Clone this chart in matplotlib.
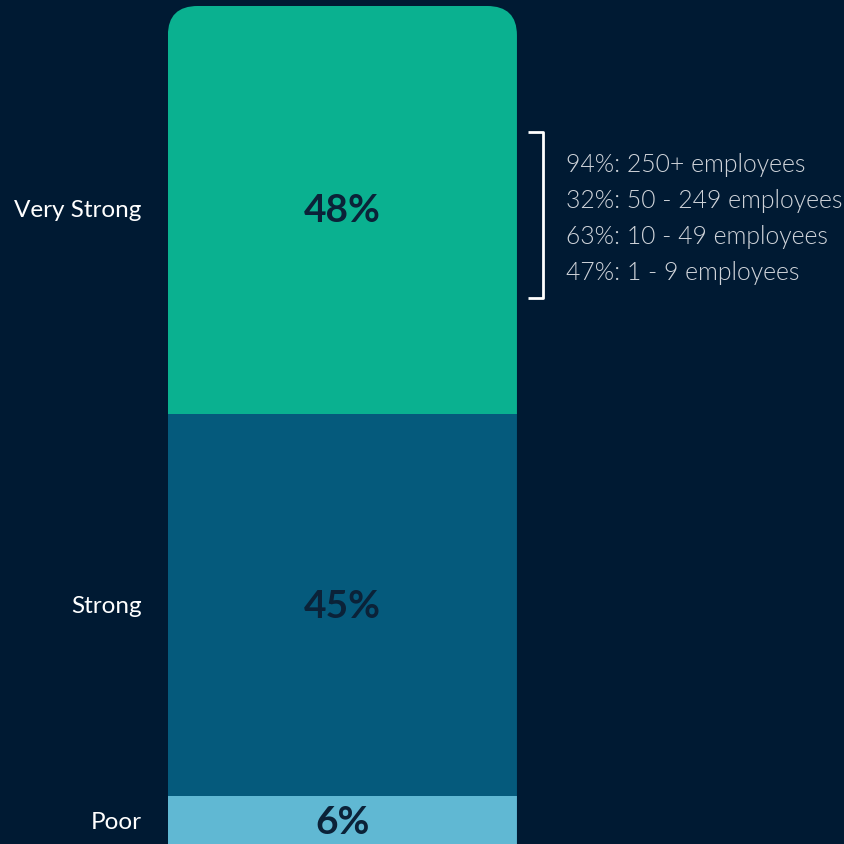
import numpy as np
import matplotlib
matplotlib.use("Agg")
from matplotlib import pyplot as plt
from matplotlib.patches import FancyBboxPatch

categories = ["Poor", "Strong", "Very Strong"]
values = [6, 45, 48]
colors = ["#60b8d3", "#055a7c", "#0ab190"]
notes = ["94%: 250+ employees", "32%: 50 - 249 employees",
         "63%: 10 - 49 employees", "47%: 1 - 9 employees"]

bg = "#001a33"
plt.rcParams["font.family"] = ["Lato", "DejaVu Sans"]

fig = plt.figure(figsize=(8.44, 8.45), dpi=100, facecolor=bg)
ax = fig.add_axes([0, 0, 1, 1])
ax.set_facecolor(bg)
ax.set_xlim(-0.981, 1.437)
ax.set_ylim(0.4, 99.82)
ax.axis("off")

bottoms = np.concatenate([[0], np.cumsum(values)[:-1]])
total = sum(values)

# rounded top of the bar (bottom corners pushed off the canvas)
clip = FancyBboxPatch((-0.5, -10), 1, total + 10,
                      boxstyle="round,pad=0,rounding_size=0.086",
                      mutation_aspect=40, transform=ax.transData,
                      facecolor="none", edgecolor="none")
ax.add_patch(clip)

bars = ax.bar(0, values, width=1, bottom=bottoms, color=colors, linewidth=0)
for b in bars:
    b.set_clip_path(clip)

for cat, v, b0 in zip(categories, values, bottoms):
    mid = b0 + v / 2
    ax.text(0, mid, f"{v}%", ha="center", va="center", fontsize=28,
            fontweight="bold", color="#0b2238")
    ax.text(-0.575, mid, cat, ha="right", va="center", fontsize=17.5, color="white")

# bracket with breakdown notes
top_y = bottoms[-1] + values[-1] / 2 + 5.4
step = 4.25
ys = [top_y - i * step for i in range(len(notes))]
for y, n in zip(ys, notes):
    ax.text(0.64, y, n, ha="left", va="center", fontsize=17.8,
            fontweight=300, color="#d0d4da")
y_hi = ys[0] + 3.8
y_lo = ys[-1] - 3.0
ax.plot([0.531, 0.574, 0.574, 0.531], [y_hi, y_hi, y_lo, y_lo],
        color="white", lw=2, solid_capstyle="butt")

fig.savefig("out.png", dpi=100, facecolor=bg)
